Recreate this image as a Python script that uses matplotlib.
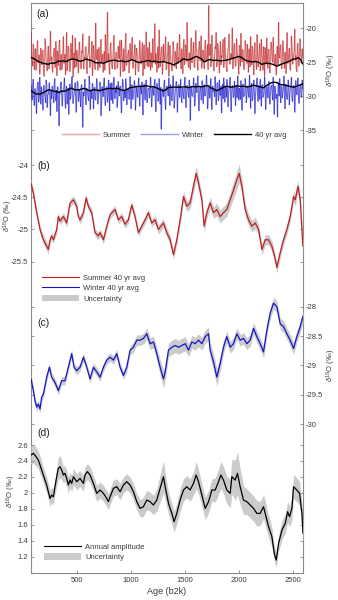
import numpy as np
import matplotlib
matplotlib.use('Agg')
import matplotlib.pyplot as plt
from matplotlib.collections import LineCollection
from matplotlib.lines import Line2D
from matplotlib.patches import Patch

plt.rcParams['font.family'] = ['Liberation Sans', 'DejaVu Sans']
plt.rcParams['axes.unicode_minus'] = False
plt.rcParams['mathtext.fontset'] = 'custom'
plt.rcParams['mathtext.rm'] = 'Liberation Sans'
plt.rcParams['mathtext.it'] = 'Liberation Sans:italic'

# ---------------- data ----------------
years_a = np.arange(70, 2591, 10)       # annual samples shown in panel (a)
years_a_mid = np.arange(75, 2596, 10)
summer_annual = [
    -20.5, -24.8, -22.3, -26.1, -23.0, -25.9, -21.8, -24.6, -26.8, -22.9,
    -25.4, -23.2, -27.1, -21.5, -24.9, -26.3, -22.6, -25.8, -20.4, -24.2,
    -26.5, -23.5, -25.1, -21.9, -27.0, -24.0, -22.4, -26.2, -23.8, -25.5,
    -21.2, -24.7, -26.9, -20.6, -25.2, -23.1, -26.4, -22.2, -24.5, -27.2,
    -23.6, -21.4, -25.7, -24.1, -26.6, -22.0, -25.0, -23.3, -20.8, -26.0,
    -24.4, -22.7, -26.7, -23.9, -21.1, -25.6, -24.3, -27.0, -22.5, -25.3,
    -19.2, -24.6, -26.2, -22.8, -25.8, -21.6, -24.0, -26.5, -23.4, -20.9,
    -25.1, -17.6, -23.7, -26.8, -22.1, -25.4, -24.2, -21.0, -26.1, -23.5,
    -25.9, -22.6, -24.5, -27.1, -21.7, -24.9, -23.0, -26.3, -20.7, -25.2,
    -23.8, -26.6, -22.2, -24.7, -21.3, -25.8, -23.6, -26.9, -22.9, -24.1,
    -26.4, -21.8, -25.3, -23.2, -27.0, -22.4, -24.8, -20.5, -25.6, -23.9,
    -22.0, -26.2, -24.4, -21.5, -25.1, -19.3, -23.7, -26.5, -22.7, -20.2,
    -25.7, -23.1, -26.8, -22.3, -24.6, -21.2, -25.9, -23.8, -27.1, -22.5,
    -24.9, -26.3, -21.9, -25.2, -23.4, -26.0, -22.1, -24.3, -20.9, -25.5,
    -23.0, -26.7, -21.6, -24.5, -22.8, -19.1, -25.4, -23.6, -26.1, -21.4,
    -24.2, -22.0, -25.8, -20.3, -23.5, -26.2, -22.6, -24.8, -21.1, -25.3,
    -23.3, -26.0, -21.7, -24.6, -22.4, -16.6, -23.9, -25.7, -21.0, -24.4,
    -26.3, -22.7, -20.6, -25.1, -23.2, -26.6, -21.9, -24.0, -22.5, -25.8,
    -21.3, -24.7, -26.4, -22.9, -20.8, -25.2, -23.7, -19.9, -24.9, -22.2,
    -25.6, -21.5, -24.1, -26.8, -22.8, -20.7, -25.0, -23.4, -26.1, -21.8,
    -24.5, -22.3, -26.5, -23.6, -21.2, -25.4, -23.0, -26.9, -22.1, -24.8,
    -20.9, -25.7, -23.3, -26.3, -21.6, -24.6, -22.7, -27.0, -23.9, -21.4,
    -25.9, -23.1, -26.6, -22.0, -24.7, -21.3, -25.5, -23.8, -26.9, -22.6,
    -19.1, -24.4, -22.4, -26.0, -21.8, -25.1, -23.5, -26.7, -20.6, -24.9,
    -22.9, -26.2, -21.1, -25.3, -23.7, -20.1, -24.0, -26.4, -22.2, -25.6,
    -21.5, -24.3, -23.0]
summer_annual_mid = [
    -24.0, -25.6, -23.1, -24.7, -26.2, -22.8, -25.1, -23.9, -25.4, -24.3,
    -23.4, -25.9, -24.6, -22.5, -25.3, -24.1, -26.0, -23.6, -24.8, -25.7,
    -24.5, -22.9, -25.8, -24.2, -23.3, -25.5, -21.7, -24.9, -26.1, -23.7,
    -25.2, -23.8, -24.4, -26.3, -22.6, -24.8, -25.6, -23.5, -21.0, -24.6,
    -25.9, -24.0, -23.2, -25.4, -22.9, -24.7, -26.0, -23.6, -25.1, -24.2,
    -22.8, -25.5, -24.1, -23.0, -25.8, -24.4, -21.9, -25.2, -23.7, -26.1,
    -24.3, -23.1, -25.6, -24.9, -22.7, -25.0, -23.8, -24.6, -26.2, -23.4,
    -22.2, -24.8, -25.7, -23.3, -24.5, -26.0, -22.9, -25.3, -24.1, -23.6,
    -25.4, -24.2, -21.8, -25.1, -23.9, -26.4, -24.7, -22.6, -25.5, -24.0,
    -23.2, -25.6, -24.4, -23.0, -25.9, -24.1, -22.4, -25.0, -23.7, -26.2,
    -24.6, -23.5, -25.2, -22.1, -24.8, -26.0, -23.4, -24.9, -22.8, -25.7,
    -24.3, -23.6, -25.8, -24.0, -22.5, -25.3, -24.7, -23.1, -25.9, -23.8,
    -24.1, -22.7, -25.5, -24.8, -23.3, -26.1, -24.2, -22.0, -25.0, -23.9,
    -25.6, -24.4, -23.0, -25.7, -24.1, -22.6, -25.2, -24.6, -23.5, -26.0,
    -24.2, -23.1, -25.4, -22.4, -24.9, -23.7, -25.8, -24.3, -21.5, -25.1,
    -23.8, -25.6, -24.0, -22.9, -25.3, -23.4, -21.9, -24.5, -25.9, -23.2,
    -24.7, -22.5, -25.0, -23.6, -26.1, -24.0, -22.3, -24.9, -23.5, -25.6,
    -24.1, -23.0, -25.7, -22.2, -24.6, -23.8, -25.4, -24.3, -21.6, -25.0,
    -23.6, -25.9, -24.2, -22.7, -25.3, -23.9, -24.5, -26.0, -22.8, -24.4,
    -25.1, -23.4, -24.8, -22.5, -25.6, -24.0, -23.1, -25.8, -24.3, -22.9,
    -25.2, -24.1, -23.0, -25.7, -24.4, -22.6, -25.1, -23.5, -24.9, -26.1,
    -23.7, -24.5, -22.2, -25.4, -23.9, -26.2, -24.0, -22.8, -25.3, -24.6,
    -23.1, -25.8, -24.2, -22.6, -25.0, -23.7, -24.8, -26.0, -22.9, -25.4,
    -24.0, -22.7, -25.5, -24.3, -23.2, -25.9, -24.6, -22.1, -25.2, -23.8,
    -25.6, -24.1, -22.9, -25.0, -23.5, -24.7, -26.1, -22.4, -25.3, -24.2,
    -23.6, -25.2, -24.4]
winter_annual = [
    -28.3, -30.6, -27.5, -31.4, -29.0, -32.6, -28.1, -30.9, -27.2, -31.2,
    -29.4, -32.1, -28.4, -30.2, -27.6, -31.7, -29.8, -28.0, -32.9, -30.4,
    -28.6, -31.0, -27.4, -30.7, -32.3, -28.8, -34.4, -29.6, -27.9, -31.5,
    -29.2, -27.3, -31.8, -28.5, -30.5, -32.7, -28.2, -29.9, -27.1, -31.1,
    -29.7, -28.0, -32.4, -27.8, -30.8, -29.1, -31.6, -28.3, -34.6, -30.0,
    -27.5, -31.3, -28.9, -30.3, -27.0, -32.0, -29.3, -28.1, -31.9, -28.7,
    -30.6, -27.4, -31.2, -29.0, -27.9, -32.9, -28.6, -30.1, -27.3, -31.4,
    -28.8, -30.9, -27.6, -32.2, -29.2, -28.0, -31.1, -27.2, -30.4, -29.5,
    -31.7, -27.8, -30.0, -28.5, -32.5, -27.5, -30.7, -29.1, -27.4, -31.3,
    -28.9, -30.5, -27.1, -31.9, -28.4, -29.8, -27.7, -32.1, -28.6, -30.2,
    -27.3, -31.5, -29.0, -27.9, -32.8, -28.2, -30.6, -27.6, -31.0, -28.8,
    -30.3, -27.2, -31.6, -28.7, -29.9, -27.5, -32.3, -28.1, -30.8, -27.4,
    -31.2, -34.9, -28.9, -30.1, -27.6, -32.0, -28.5, -29.6, -27.3, -31.4,
    -28.6, -30.7, -27.0, -31.8, -29.3, -27.8, -32.4, -28.3, -30.2, -27.5,
    -31.0, -28.8, -30.4, -27.2, -31.7, -28.4, -29.7, -27.6, -33.6, -28.9,
    -30.0, -27.3, -31.5, -28.1, -29.5, -27.0, -32.2, -28.6, -30.6, -27.7,
    -31.1, -28.3, -29.8, -26.9, -31.9, -28.7, -30.3, -27.4, -32.0, -28.5,
    -29.2, -27.1, -31.3, -28.0, -30.7, -27.6, -29.9, -32.5, -28.2, -27.3,
    -30.9, -28.6, -27.5, -31.6, -29.0, -27.2, -32.3, -28.4, -30.2, -27.8,
    -31.4, -28.8, -27.0, -30.6, -29.4, -27.7, -32.1, -28.2, -30.0, -27.4,
    -31.0, -28.5, -29.7, -26.9, -31.8, -28.1, -30.4, -27.6, -32.6, -28.7,
    -27.3, -30.8, -28.9, -27.5, -31.5, -28.3, -29.9, -27.1, -32.0, -28.6,
    -30.3, -27.8, -31.2, -28.4, -29.6, -27.2, -32.7, -28.8, -30.1, -33.1,
    -28.0, -27.4, -31.0, -28.6, -29.3, -27.0, -31.9, -28.2, -30.5, -27.6,
    -31.3, -28.9, -27.2, -30.8, -28.4, -32.4, -27.7, -29.8, -27.3, -31.1,
    -28.5, -30.2, -27.6]
winter_annual_mid = [
    -29.6, -28.4, -30.1, -28.9, -30.5, -29.2, -27.9, -30.3, -29.0, -28.6,
    -30.2, -28.7, -29.5, -31.0, -28.3, -29.8, -28.9, -30.6, -29.3, -28.5,
    -29.9, -28.2, -30.4, -29.1, -28.6, -30.8, -29.4, -28.0, -30.1, -29.6,
    -28.5, -30.3, -29.0, -31.2, -28.8, -29.7, -30.5, -28.4, -29.2, -30.0,
    -28.7, -30.6, -29.3, -28.1, -30.2, -29.9, -28.6, -31.1, -29.4, -28.9,
    -30.1, -28.8, -29.6, -30.7, -28.4, -29.2, -30.4, -28.5, -29.8, -30.3,
    -29.0, -28.3, -30.5, -29.4, -28.7, -30.9, -29.1, -28.2, -30.2, -29.5,
    -28.6, -30.0, -29.3, -28.1, -30.6, -29.7, -28.5, -30.1, -29.0, -28.4,
    -30.4, -29.2, -28.6, -30.8, -29.5, -28.0, -29.9, -30.3, -28.8, -29.4,
    -28.9, -30.1, -29.6, -28.3, -30.5, -29.0, -28.7, -30.2, -29.3, -28.5,
    -30.0, -28.4, -29.7, -31.0, -28.9, -29.4, -28.2, -30.6, -29.1, -28.8,
    -29.5, -28.6, -30.3, -29.2, -28.4, -30.7, -29.0, -28.9, -30.1, -29.6,
    -28.7, -30.2, -29.4, -28.1, -30.5, -29.3, -28.6, -30.0, -29.5, -28.3,
    -30.4, -28.8, -29.2, -30.6, -28.5, -29.7, -30.1, -28.4, -29.0, -30.3,
    -28.9, -29.8, -28.2, -30.5, -29.3, -28.7, -30.2, -29.1, -28.6, -30.0,
    -29.4, -28.5, -30.7, -29.0, -28.3, -30.1, -29.6, -28.8, -30.4, -29.2,
    -28.6, -30.0, -29.1, -28.4, -30.6, -28.9, -29.5, -30.2, -28.7, -29.3,
    -30.1, -28.8, -29.4, -28.2, -30.3, -29.7, -28.5, -29.9, -30.4, -28.6,
    -29.0, -30.2, -28.7, -29.5, -28.3, -30.6, -29.1, -28.9, -30.0, -29.4,
    -28.5, -30.3, -29.2, -28.8, -30.5, -29.0, -28.4, -30.1, -29.6, -28.7,
    -29.9, -28.6, -30.2, -29.3, -28.5, -30.7, -28.9, -29.4, -30.0, -28.3,
    -29.7, -28.4, -30.5, -29.1, -28.7, -30.2, -29.5, -28.6, -30.3, -29.0,
    -28.8, -30.1, -29.3, -28.4, -30.6, -29.0, -28.5, -30.4, -29.7, -28.6,
    -30.0, -29.2, -28.5, -30.3, -28.9, -29.6, -28.2, -30.1, -29.4, -28.8,
    -29.5, -28.3, -30.4, -29.0, -28.6, -30.2, -29.3, -28.7, -30.0, -29.1,
    -28.4, -30.1, -29.0]

age_b = [69, 91, 122, 153, 184, 215, 230, 246, 261, 277, 308, 323, 339, 370, 401, 416,
         432, 463, 494, 509, 525, 556, 581, 602, 633, 664, 695, 711, 742, 773, 804, 850,
         881, 912, 943, 974, 1005, 1036, 1067, 1098, 1129, 1160, 1191, 1222, 1253, 1300,
         1331, 1362, 1393, 1424, 1455, 1486, 1517, 1548, 1579, 1604, 1626, 1657, 1678,
         1703, 1734, 1765, 1796, 1827, 1858, 1889, 1920, 1951, 1982, 2004, 2029, 2060,
         2091, 2122, 2153, 2184, 2215, 2246, 2277, 2308, 2339, 2354, 2385, 2416, 2447,
         2478, 2509, 2525, 2550, 2571, 2587, 2596]
summer_avg = [-24.28, -24.44, -24.74, -25.00, -25.16, -25.26, -25.31, -25.16, -25.10, -25.16,
              -25.00, -24.80, -24.87, -24.80, -24.90, -24.74, -24.59, -24.54, -24.64, -24.80,
              -24.85, -24.74, -24.51, -24.64, -24.74, -25.05, -25.10, -25.05, -25.16, -24.95,
              -24.77, -24.69, -24.85, -24.80, -24.92, -24.85, -24.62, -24.80, -25.05, -24.95,
              -24.85, -24.74, -24.90, -24.85, -25.00, -24.90, -25.05, -25.16, -25.39, -25.16,
              -24.85, -24.49, -24.64, -24.59, -24.33, -24.13, -24.28, -24.54, -24.95, -24.74,
              -24.59, -24.74, -24.69, -24.80, -24.74, -24.69, -24.54, -24.39, -24.23, -24.13,
              -24.33, -24.69, -24.85, -24.95, -24.90, -25.00, -25.31, -25.16, -25.16, -25.26,
              -25.46, -25.59, -25.36, -25.16, -25.00, -24.80, -24.49, -24.54, -24.33, -24.54,
              -25.00, -25.26]
summer_unc = [0.06, 0.06, 0.06, 0.06, 0.07, 0.07, 0.07, 0.06, 0.06, 0.06,
              0.06, 0.06, 0.06, 0.06, 0.06, 0.06, 0.06, 0.06, 0.06, 0.06,
              0.06, 0.06, 0.06, 0.06, 0.06, 0.06, 0.06, 0.06, 0.06, 0.06,
              0.06, 0.06, 0.06, 0.06, 0.06, 0.06, 0.06, 0.06, 0.06, 0.06,
              0.06, 0.06, 0.06, 0.06, 0.07, 0.07, 0.07, 0.07, 0.07, 0.07,
              0.08, 0.08, 0.08, 0.09, 0.10, 0.11, 0.10, 0.09, 0.09, 0.09,
              0.09, 0.09, 0.10, 0.10, 0.10, 0.11, 0.12, 0.13, 0.14, 0.14,
              0.12, 0.10, 0.09, 0.09, 0.09, 0.08, 0.08, 0.08, 0.08, 0.08,
              0.08, 0.08, 0.08, 0.08, 0.08, 0.08, 0.09, 0.09, 0.09, 0.09,
              0.09, 0.09]

age_c = [69, 91, 106, 122, 137, 153, 168, 184, 215, 240, 261, 292, 323, 354, 385, 416,
         447, 469, 494, 525, 556, 587, 618, 649, 680, 711, 742, 773, 804, 835, 866, 897,
         928, 959, 990, 1021, 1052, 1083, 1114, 1145, 1176, 1207, 1238, 1269, 1300, 1316,
         1347, 1378, 1409, 1440, 1471, 1502, 1533, 1564, 1595, 1626, 1657, 1688, 1719,
         1734, 1765, 1796, 1827, 1858, 1889, 1920, 1951, 1982, 2013, 2044, 2075, 2106,
         2137, 2168, 2199, 2230, 2261, 2292, 2323, 2354, 2385, 2416, 2447, 2478, 2509,
         2540, 2571, 2596]
winter_avg = [-29.23, -29.43, -29.60, -29.71, -29.66, -29.74, -29.54, -29.49, -29.20, -29.03,
              -29.20, -29.29, -29.43, -29.26, -29.26, -29.03, -28.80, -29.03, -29.09, -29.03,
              -28.86, -29.03, -29.23, -29.03, -29.11, -29.20, -29.03, -28.91, -28.86, -28.91,
              -28.80, -29.03, -29.17, -29.03, -28.74, -28.69, -28.57, -28.57, -28.54, -28.46,
              -28.63, -28.60, -28.80, -29.03, -29.23, -29.11, -28.74, -28.69, -28.66, -28.69,
              -28.66, -28.63, -28.74, -28.60, -28.63, -28.57, -28.63, -28.51, -28.46, -28.74,
              -28.94, -29.20, -28.97, -28.69, -28.51, -28.69, -28.63, -28.46, -28.57, -28.54,
              -28.63, -28.57, -28.37, -28.51, -28.63, -28.77, -28.40, -28.11, -27.94, -28.00,
              -28.29, -28.34, -28.46, -28.57, -28.71, -28.51, -28.34, -28.17]
winter_unc = [0.07, 0.07, 0.07, 0.07, 0.07, 0.07, 0.07, 0.07, 0.07, 0.07,
              0.07, 0.07, 0.07, 0.07, 0.07, 0.07, 0.07, 0.07, 0.07, 0.07,
              0.07, 0.07, 0.07, 0.07, 0.07, 0.07, 0.07, 0.07, 0.07, 0.07,
              0.07, 0.07, 0.07, 0.08, 0.08, 0.09, 0.09, 0.09, 0.09, 0.10,
              0.10, 0.10, 0.11, 0.13, 0.15, 0.14, 0.12, 0.12, 0.12, 0.12,
              0.12, 0.12, 0.11, 0.11, 0.11, 0.11, 0.11, 0.11, 0.11, 0.13,
              0.14, 0.15, 0.13, 0.11, 0.10, 0.10, 0.10, 0.10, 0.10, 0.10,
              0.10, 0.10, 0.10, 0.10, 0.10, 0.10, 0.10, 0.10, 0.10, 0.10,
              0.10, 0.10, 0.10, 0.10, 0.10, 0.10, 0.10, 0.10]

age_d = [69, 91, 116, 137, 153, 178, 199, 215, 230, 246, 261, 277, 292, 308, 323, 339,
         354, 370, 385, 401, 416, 432, 447, 463, 494, 525, 556, 571, 593, 618, 649, 680,
         711, 742, 773, 788, 804, 835, 866, 897, 928, 959, 990, 1021, 1052, 1083, 1114,
         1145, 1176, 1207, 1238, 1269, 1300, 1316, 1347, 1378, 1399, 1424, 1455, 1486,
         1517, 1548, 1579, 1604, 1626, 1657, 1688, 1719, 1750, 1781, 1812, 1834, 1858,
         1889, 1920, 1936, 1967, 1988, 2013, 2044, 2075, 2106, 2137, 2168, 2199, 2230,
         2246, 2277, 2308, 2330, 2348, 2370, 2401, 2432, 2454, 2472, 2494, 2509, 2540,
         2565, 2587, 2597]
amplitude = [2.475, 2.496, 2.454, 2.412, 2.349, 2.245, 2.161, 2.099, 2.015, 1.931,
             1.973, 1.952, 2.078, 2.203, 2.307, 2.328, 2.287, 2.224, 2.245, 2.182,
             2.099, 2.161, 2.119, 2.203, 2.140, 2.182, 2.119, 2.224, 2.266, 2.224,
             2.119, 1.994, 2.036, 1.994, 1.931, 1.890, 1.952, 2.057, 2.078, 2.015,
             2.099, 2.140, 2.099, 2.015, 1.890, 1.806, 1.827, 1.910, 1.890, 1.848,
             1.910, 2.057, 2.203, 2.078, 1.869, 1.743, 1.639, 1.743, 1.910, 2.036,
             2.078, 2.036, 2.119, 2.224, 2.140, 1.973, 1.806, 1.890, 2.036, 2.036,
             2.140, 2.224, 2.161, 2.036, 1.994, 2.203, 2.161, 2.245, 2.078, 1.910,
             1.890, 1.848, 1.806, 1.743, 1.743, 1.827, 1.743, 1.576, 1.451, 1.242,
             1.158, 1.367, 1.534, 1.618, 1.764, 1.702, 1.806, 2.078, 2.036, 1.994,
             1.743, 1.493]
amp_unc = [0.12, 0.12, 0.12, 0.11, 0.11, 0.10, 0.10, 0.10, 0.10, 0.10,
           0.10, 0.10, 0.10, 0.12, 0.14, 0.14, 0.12, 0.10, 0.10, 0.10,
           0.10, 0.10, 0.10, 0.10, 0.10, 0.10, 0.10, 0.10, 0.10, 0.10,
           0.10, 0.10, 0.10, 0.10, 0.10, 0.10, 0.10, 0.10, 0.10, 0.10,
           0.10, 0.10, 0.10, 0.10, 0.10, 0.11, 0.12, 0.12, 0.12, 0.12,
           0.14, 0.17, 0.20, 0.17, 0.14, 0.13, 0.13, 0.13, 0.14, 0.14,
           0.14, 0.14, 0.15, 0.17, 0.15, 0.14, 0.14, 0.14, 0.14, 0.15,
           0.16, 0.17, 0.17, 0.17, 0.18, 0.22, 0.25, 0.27, 0.22, 0.18,
           0.16, 0.16, 0.16, 0.16, 0.15, 0.15, 0.15, 0.14, 0.12, 0.10,
           0.09, 0.10, 0.12, 0.12, 0.13, 0.13, 0.14, 0.15, 0.15, 0.15,
           0.14, 0.13]

xticks = [500, 1000, 1500, 2000, 2500]

# ---------------- layout helpers ----------------
W, H = 338, 600
fig = plt.figure(figsize=(3.38, 6.0), dpi=100)
XL, XR = 31, 303
XLIM = (69, 2597)
SPINE = '#8a8a8a'
TXT = '#3a3a3a'
GREY = '#cbcbcb'
RED = '#c01f22'
BLUE = '#1414cc'
FS = 5.5


def add_ax(top, bottom):
    return fig.add_axes([XL / W, 1 - bottom / H, (XR - XL) / W, (bottom - top) / H])


frame = add_ax(3.3, 572.7)
frame.set_xticks([])
frame.set_yticks([])
for s in frame.spines.values():
    s.set_color(SPINE)
    s.set_linewidth(0.8)


def style_panel(ax, ylim, yticks, side):
    ax.patch.set_visible(False)
    for s in ax.spines.values():
        s.set_visible(False)
    ax.set_xlim(*XLIM)
    ax.set_ylim(*ylim)
    ax.set_yticks(yticks)
    ax.set_yticklabels([('%g' % t) for t in yticks])
    ax.tick_params(axis='y', direction='in', length=2.5, width=0.6, color=SPINE,
                   labelcolor=TXT, labelsize=FS, pad=2, left=True, right=True,
                   labelleft=(side == 'left'), labelright=(side == 'right'))
    ax.set_xticks([])


ylab = r'$\delta^{18}$O (‰)'

# ---------------- panel (a) ----------------
axa = add_ax(3.3, 150)
style_panel(axa, (-37.95, -16.3), [-35, -30, -25, -20], 'right')
for main, mid, col in ((summer_annual, summer_annual_mid, RED),
                       (winter_annual, winter_annual_mid, BLUE)):
    yrs = np.empty(len(years_a) + len(years_a_mid))
    vals = np.empty_like(yrs)
    yrs[0::2], yrs[1::2] = years_a, years_a_mid
    vals[0::2], vals[1::2] = main, mid
    pts = np.column_stack([yrs, vals])
    segs = np.stack([pts[:-1], pts[1:]], axis=1)
    lc = LineCollection(segs, colors=col, linewidths=0.85, alpha=0.62)
    axa.add_collection(lc)
axa.plot(age_b, summer_avg, color='k', lw=1.0)
axa.plot(age_c, winter_avg, color='k', lw=1.0)
h_a = [Line2D([], [], color=RED, alpha=0.4, lw=1.0),
       Line2D([], [], color=BLUE, alpha=0.4, lw=1.0),
       Line2D([], [], color='k', lw=1.0)]
fig.legend(h_a, ['Summer', 'Winter', '40 yr avg'], loc='center left',
           bbox_to_anchor=(62 / W, 1 - 135 / H), ncol=3, frameon=False,
           fontsize=FS, handlelength=4.8, handletextpad=0.55, columnspacing=1.3,
           borderpad=0, borderaxespad=0, labelcolor=TXT)
fig.text(36 / W, 1 - 14 / H, '(a)', fontsize=7.5, color='#222', ha='left', va='center')
fig.text(331 / W, 1 - 70 / H, ylab, rotation=90, fontsize=5.5, color=TXT,
         ha='center', va='center')

# ---------------- panel (b) ----------------
axb = add_ax(140, 290)
style_panel(axb, (-25.939, -23.612), [-25.5, -25, -24.5, -24], 'left')
lo = np.asarray(summer_avg) - np.asarray(summer_unc)
hi = np.asarray(summer_avg) + np.asarray(summer_unc)
axb.fill_between(age_b, lo, hi, color=GREY, lw=0)
axb.plot(age_b, summer_avg, color=RED, lw=0.9)
fig.text(37 / W, 1 - 166 / H, '(b)', fontsize=7.5, color='#222', ha='left', va='center')
fig.text(8.5 / W, 1 - 216 / H, ylab, rotation=90, fontsize=5.3, color=TXT,
         ha='center', va='center')
h_b = [Line2D([], [], color=RED, lw=0.8), Line2D([], [], color=BLUE, lw=0.8),
       Patch(facecolor=GREY, edgecolor='none')]
fig.legend(h_b, ['Summer 40 yr avg', 'Winter 40 yr avg', 'Uncertainty'],
           loc='upper left', bbox_to_anchor=(42 / W, 1 - 274 / H), frameon=False,
           fontsize=FS, handlelength=4.9, handleheight=1.0, handletextpad=0.5,
           labelspacing=0.3, borderpad=0, borderaxespad=0, labelcolor=TXT)

# ---------------- panel (c) ----------------
axc = add_ax(285, 430)
style_panel(axc, (-30.10, -27.63), [-30, -29.5, -29, -28.5, -28], 'right')
lo = np.asarray(winter_avg) - np.asarray(winter_unc)
hi = np.asarray(winter_avg) + np.asarray(winter_unc)
axc.fill_between(age_c, lo, hi, color=GREY, lw=0)
axc.plot(age_c, winter_avg, color=BLUE, lw=0.9)
fig.text(37 / W, 1 - 323 / H, '(c)', fontsize=7.5, color='#222', ha='left', va='center')
fig.text(331 / W, 1 - 365 / H, ylab, rotation=90, fontsize=5.5, color=TXT,
         ha='center', va='center')

# ---------------- panel (d) ----------------
axd = add_ax(425, 572.7)
style_panel(axd, (1.0, 2.851), [1.2, 1.4, 1.6, 1.8, 2.0, 2.2, 2.4, 2.6], 'left')
lo = np.asarray(amplitude) - np.asarray(amp_unc)
hi = np.asarray(amplitude) + np.asarray(amp_unc)
axd.fill_between(age_d, lo, hi, color=GREY, lw=0)
axd.plot(age_d, amplitude, color='k', lw=0.9)
axd.set_xticks(xticks)
axd.set_xticklabels([str(t) for t in xticks])
axd.tick_params(axis='x', direction='in', length=2.5, width=0.6, color=SPINE,
                labelcolor=TXT, labelsize=FS, pad=3, bottom=True, top=False)
axd.set_xlabel('Age (b2k)', fontsize=6.5, color=TXT, labelpad=2.5)
fig.text(37 / W, 1 - 433 / H, '(d)', fontsize=7.5, color='#222', ha='left', va='center')
fig.text(11 / W, 1 - 491 / H, ylab, rotation=90, fontsize=5.5, color=TXT,
         ha='center', va='center')
h_d = [Line2D([], [], color='k', lw=0.8), Patch(facecolor=GREY, edgecolor='none')]
fig.legend(h_d, ['Annual amplitude', 'Uncertainty'], loc='upper left',
           bbox_to_anchor=(44 / W, 1 - 543 / H), frameon=False, fontsize=FS,
           handlelength=4.9, handleheight=1.0, handletextpad=0.5, labelspacing=0.3,
           borderpad=0, borderaxespad=0, labelcolor=TXT)

fig.savefig('out.png', dpi=100)
